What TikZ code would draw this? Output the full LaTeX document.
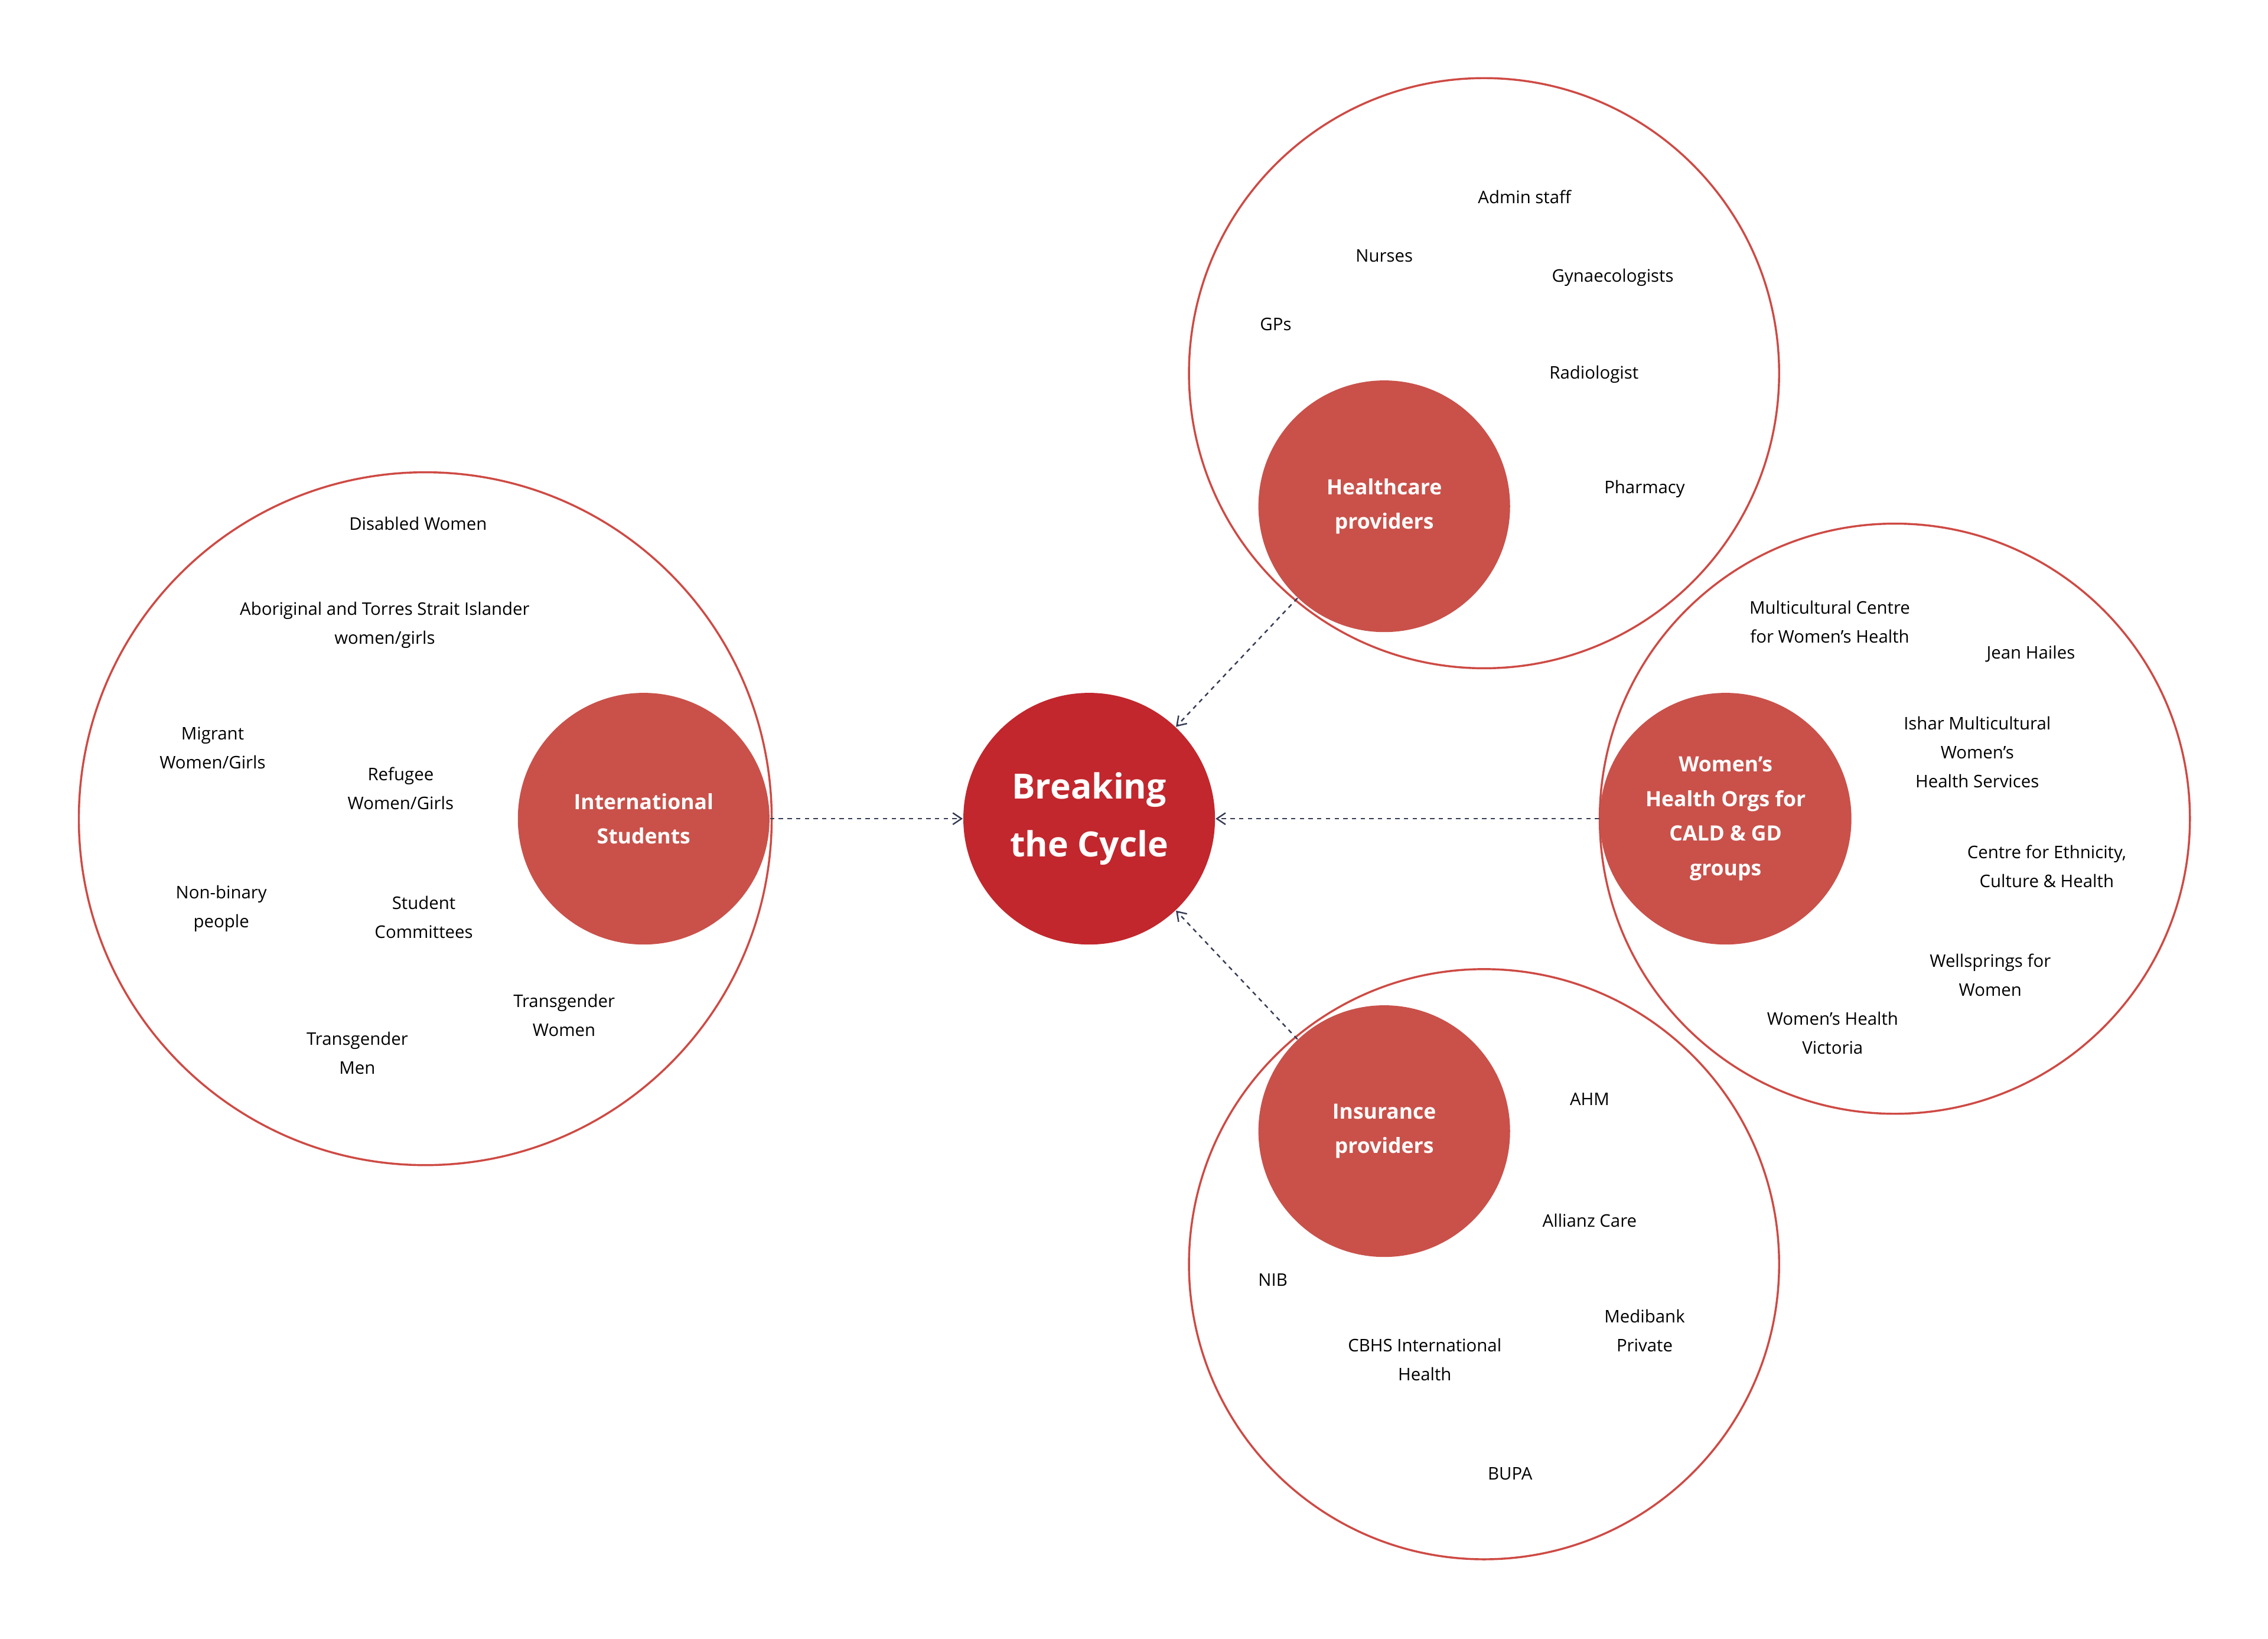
\documentclass[tikz,border=0pt]{standalone}
\usepackage{fontspec}
\setmainfont{Open Sans}
\usetikzlibrary{arrows.meta}
\definecolor{ring}{RGB}{206,74,68}
\definecolor{hub}{RGB}{193,39,45}
\definecolor{grp}{RGB}{201,81,74}
\definecolor{link}{RGB}{55,60,85}
\tikzset{every picture/.style={line width=0.75pt}}
\tikzset{
  big/.style={circle,draw=ring,line width=1.4pt,minimum size=#1},
  grp/.style={circle,fill=grp,minimum size=174pt,text=white,font=\fontsize{14.5}{24}\selectfont\bfseries,align=center},
  lbl/.style={font=\fontsize{12}{20}\selectfont,align=center},
  link/.style={draw=link,dashed,line width=1pt,-{Straight Barb[length=6pt,width=8pt]}}
}
\begin{document}
\begin{tikzpicture}[x=1pt,y=1pt,yscale=-1,xscale=1]
	\useasboundingbox (0,0) rectangle (1568,1133);

	% outer rings
	\node [big=479pt] (rs) at (294,566) {};
	\node [big=408pt] (rh) at (1026,258) {};
	\node [big=408pt] (rw) at (1310,566) {};
	\node [big=408pt] (ri) at (1026,874) {};

	% group circles
	\node [circle,fill=hub,minimum size=174pt,text=white,align=center,font=\fontsize{24}{40}\selectfont\bfseries] (hub) at (753,566) {Breaking\\the Cycle};
	\node [grp] (st) at (445,566) {International\\Students};
	\node [grp] (hc) at (957,350) {Healthcare\\providers};
	\node [grp] (wh) at (1193,566) {Women’s\\Health Orgs for\\CALD \& GD\\groups};
	\node [grp] (ins) at (957,782) {Insurance\\providers};

	% links
	\draw [link] (st) -- (hub);
	\draw [link] (wh) -- (hub);
	\draw [link] (hc) -- (hub);
	\draw [link] (ins) -- (hub);

	% students
	\node [lbl] (s1) at (289,362) {Disabled Women};
	\node [lbl] (s2) at (266,432) {Aboriginal and Torres Strait Islander\\women/girls};
	\node [lbl] (s3) at (147,517) {Migrant\\Women/Girls};
	\node [lbl] (s4) at (277,545) {Refugee\\Women/Girls};
	\node [lbl] (s5) at (153,628) {Non-binary\\people};
	\node [lbl] (s6) at (293,634) {Student\\Committees};
	\node [lbl] (s7) at (390,702) {Transgender\\Women};
	\node [lbl] (s8) at (247,728) {Transgender\\Men};

	% healthcare
	\node [lbl] (h1) at (1054,136) {Admin staff};
	\node [lbl] (h2) at (957,177) {Nurses};
	\node [lbl] (h3) at (1115,192) {Gynaecologists};
	\node [lbl] (h4) at (882,224) {GPs};
	\node [lbl] (h5) at (1102,259) {Radiologist};
	\node [lbl] (h6) at (1137,338) {Pharmacy};

	% women's health
	\node [lbl] (w1) at (1265,430) {Multicultural Centre\\for Women’s Health};
	\node [lbl] (w2) at (1404,452) {Jean Hailes};
	\node [lbl] (w3) at (1367,520) {Ishar Multicultural\\Women’s\\Health Services};
	\node [lbl] (w4) at (1415,599) {Centre for Ethnicity,\\Culture \& Health};
	\node [lbl] (w5) at (1376,674) {Wellsprings for\\Women};
	\node [lbl] (w6) at (1267,714) {Women’s Health\\Victoria};

	% insurance
	\node [lbl] (i1) at (1099,760) {AHM};
	\node [lbl] (i2) at (1099,844) {Allianz Care};
	\node [lbl] (i3) at (880,885) {NIB};
	\node [lbl] (i4) at (1137,920) {Medibank\\Private};
	\node [lbl] (i5) at (985,940) {CBHS International\\Health};
	\node [lbl] (i6) at (1044,1019) {BUPA};
\end{tikzpicture}
\end{document}
